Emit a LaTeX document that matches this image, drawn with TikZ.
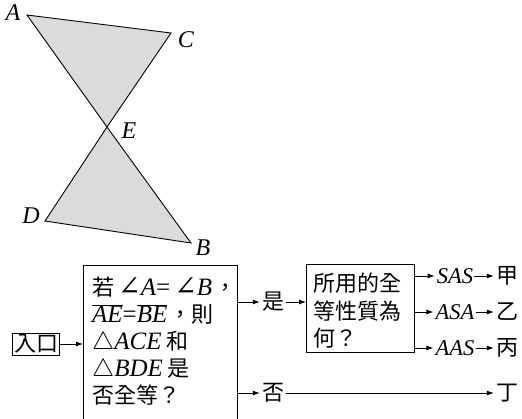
\documentclass[tikz,border=0pt]{standalone}
\usepackage{fontspec}
\setmainfont{Liberation Serif}
\newfontfamily\cjk{Noto Sans CJK TC}
\newfontfamily\sym{DejaVu Serif}
\usetikzlibrary{arrows.meta}
\tikzset{
  arr/.style={-{Latex[length=7pt,width=5pt]}, line width=0.8pt},
  box/.style={draw, line width=0.8pt},
  lbl/.style={font=\fontsize{24}{24}\selectfont\itshape, inner sep=0pt},
  cj/.style={font=\fontsize{22}{27}\selectfont\cjk, inner sep=0pt},
  it/.style={font=\fontsize{22.5}{27}\selectfont\itshape, inner sep=0pt},
}
\newcommand{\zh}[1]{{\cjk\fontsize{22}{27}\selectfont #1}}
\newcommand{\ang}{{\sym\fontsize{27}{27}\selectfont ∠}}
\begin{document}
\begin{tikzpicture}[x=1pt,y=-1pt]
\useasboundingbox (0,0) rectangle (522,418);
\clip (0,0) rectangle (522,418);
% geometry
\coordinate (A) at (27,15);
\coordinate (C) at (171,33);
\coordinate (E) at (107,127);
\coordinate (D) at (45,221);
\coordinate (B) at (191,243);
\fill[gray!28] (A) -- (C) -- (E) -- cycle;
\fill[gray!28] (E) -- (D) -- (B) -- cycle;
\draw[line width=0.9pt, line join=miter] (A) -- (C) -- (E) -- (D) -- (B) -- (E) -- cycle;
\node[lbl] (lA) at (13,13) {A};
\node[lbl] (lC) at (186,40) {C};
\node[lbl] (lE) at (129,131) {E};
\node[lbl] (lD) at (31,216) {D};
\node[lbl] (lB) at (203,248) {B};
% flowchart
\node[box, cj, inner sep=1.5pt, minimum height=22pt] (entry) at (36,344) {入口};
\node[box, minimum width=154pt, minimum height=190pt, anchor=north west] (q) at (83,265) {};
\node[anchor=north west, align=left, font=\fontsize{25}{27}\selectfont, inner sep=0pt] (qt) at (92,277) {%
\zh{若}\hspace{4pt}\ang\textit{A}=\hspace{4pt}\ang\textit{B}\hspace{2pt}\zh{，}\\
$\overline{\mbox{\itshape AE}}$=$\overline{\mbox{\itshape BE}}$\hspace{2pt}\zh{，則}\\
$\triangle$\textit{ACE}\hspace{5pt}\zh{和}\\
$\triangle$\textit{BDE}\hspace{5pt}\zh{是}\\
\zh{否全等？}};
\node[cj] (yes) at (273,302) {是};
\node[cj] (no) at (273,393) {否};
\node[box, minimum width=108pt, minimum height=88pt, anchor=north west] (m) at (306,264) {};
\node[anchor=north west, align=left, font=\fontsize{22}{27.5}\selectfont\cjk, inner sep=0pt] (mt) at (313,273) {所用的全\\等性質為\\何？};
\node[it] (sas) at (455,276) {SAS};
\node[it] (asa) at (455,312) {ASA};
\node[it] (aas) at (455,348) {AAS};
\node[cj] (r1) at (507,276) {甲};
\node[cj] (r2) at (507,312) {乙};
\node[cj] (r3) at (507,348) {丙};
\node[cj] (r4) at (507,393) {丁};
\draw[arr] (entry.east) -- (q.west |- entry.east);
\draw[arr] (q.east |- yes.west) -- ([xshift=-2pt]yes.west);
\draw[arr] (q.east |- no.west) -- ([xshift=-2pt]no.west);
\draw[arr] ([xshift=2pt]yes.east) -- (m.west |- yes.east);
\draw[arr] (m.east |- sas.west) -- ([xshift=-2pt]sas.west);
\draw[arr] (m.east |- asa.west) -- ([xshift=-2pt]asa.west);
\draw[arr] (m.east |- aas.west) -- ([xshift=-2pt]aas.west);
\draw[arr] ([xshift=1pt]sas.east) -- ([xshift=-2pt]r1.west);
\draw[arr] ([xshift=1pt]asa.east) -- ([xshift=-2pt]r2.west);
\draw[arr] ([xshift=1pt]aas.east) -- ([xshift=-2pt]r3.west);
\draw[arr] ([xshift=2pt]no.east) -- ([xshift=-2pt]r4.west);
\end{tikzpicture}
\end{document}
